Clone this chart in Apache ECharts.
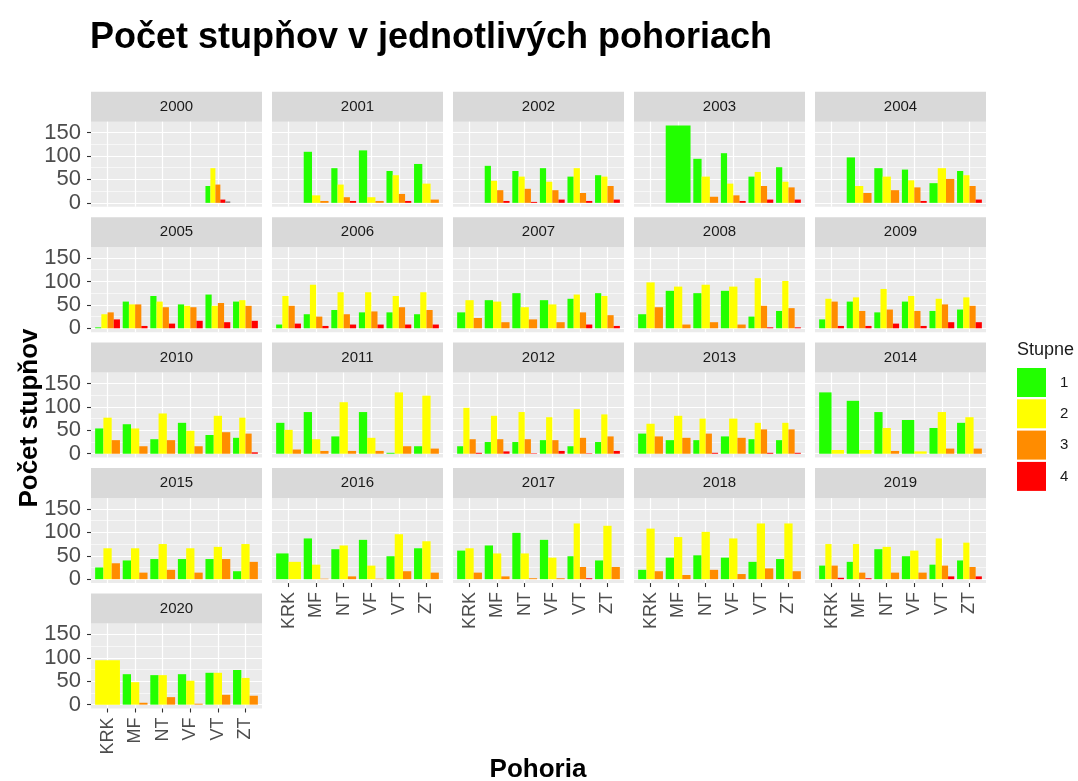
<!DOCTYPE html>
<html>
<head>
<meta charset="utf-8">
<title>Počet stupňov v jednotlivých pohoriach</title>
<script src="https://cdn.jsdelivr.net/npm/echarts@6/dist/echarts.min.js"></script>
<style>
	html, body { margin: 0; padding: 0; background: #fff; }
	#chart { width: 1078px; height: 781px; }
</style>
</head>
<body>
<div id="chart"></div>
<script>
	var _ = null; // no record for that group -> no bar, and no slot in the dodge

	const years = [2000, 2001, 2002, 2003, 2004, 2005, 2006, 2007, 2008, 2009, 2010,
		2011, 2012, 2013, 2014, 2015, 2016, 2017, 2018, 2019, 2020];
	const pohoria = ['KRK', 'MF', 'NT', 'VF', 'VT', 'ZT'];
	const stupne = ['1', '2', '3', '4'];
	const yTicks = [0, 50, 100, 150];

	// one row per year, one column per pohorie
	const stupen1 = [
		[_, _, _, _, 36, _],
		[_, 109, 74, 112, 68, 83],
		[_, 79, 68, 74, 56, 59],
		[_, 165, 94, 106, 56, 76],
		[_, 97, 74, 71, 42, 68],
		[2, 57, 69, 51, 72, 57],
		[8, 30, 39, 34, 34, 30],
		[34, 60, 75, 60, 63, 75],
		[30, 80, 75, 80, 25, 37],
		[19, 57, 34, 57, 37, 40],
		[54, 63, 31, 66, 40, 34],
		[66, 89, 37, 89, 2, 16],
		[16, 25, 25, 29, 16, 25],
		[43, 29, 29, 37, 31, 29],
		[131, 113, 89, 72, 55, 66],
		[25, 40, 43, 43, 43, 17],
		[55, 87, 64, 84, 49, 66],
		[61, 72, 99, 84, 49, 40],
		[20, 46, 51, 46, 37, 43],
		[29, 37, 64, 49, 31, 40],
		[_, 65, 63, 65, 68, 74]
	];
	const stupen2 = [
		[_, _, _, _, 74, _],
		[_, 16, 39, 12, 59, 41],
		[_, 47, 56, 45, 74, 56],
		[_, _, 56, 41, 66, 45],
		[_, 36, 56, 48, 74, 59],
		[30, 51, 57, 48, 48, 60],
		[69, 93, 77, 77, 69, 77],
		[60, 57, 45, 51, 72, 69],
		[98, 89, 93, 89, 107, 101],
		[63, 66, 84, 69, 63, 66],
		[77, 54, 86, 49, 81, 77],
		[51, 31, 110, 34, 131, 124],
		[98, 81, 89, 78, 95, 84],
		[64, 81, 75, 75, 66, 66],
		[8, 8, 55, 5, 89, 78],
		[66, 66, 75, 66, 69, 75],
		[37, 31, 72, 29, 96, 81],
		[66, 55, 55, 46, 119, 114],
		[108, 90, 101, 87, 119, 119],
		[75, 75, 69, 61, 87, 78],
		[95, 48, 63, 51, 68, 57]
	];
	const stupen3 = [
		[_, _, _, _, 39, _],
		[_, 4, 12, 4, 19, 7],
		[_, 27, 30, 27, 21, 36],
		[_, _, 13, 16, 36, 33],
		[_, 21, 27, 33, 51, 36],
		[34, 51, 45, 45, 54, 48],
		[48, 25, 30, 36, 45, 39],
		[22, 13, 19, 13, 34, 28],
		[45, 8, 13, 8, 48, 43],
		[57, 37, 40, 37, 51, 48],
		[29, 16, 29, 16, 46, 43],
		[9, 6, 6, 6, 16, 11],
		[31, 31, 31, 29, 34, 37],
		[37, 34, 43, 34, 52, 52],
		[_, _, 6, _, 11, 11],
		[34, 14, 20, 14, 43, 37],
		[_, 1, 6, 1, 17, 14],
		[14, 6, 2, 2, 26, 26],
		[17, 9, 20, 11, 23, 17],
		[29, 14, 14, 14, 29, 26],
		[_, 4, 16, 2, 21, 19]
	];
	const stupen4 = [
		[_, _, _, _, 7, _],
		[_, _, 4, _, 4, _],
		[_, 4, 2, 7, 4, 7],
		[_, _, _, 4, 7, 7],
		[_, _, _, 4, _, 7],
		[19, 5, 10, 16, 13, 16],
		[10, 5, 8, 8, 8, 8],
		[_, _, _, _, 8, 5],
		[_, _, _, _, 2, 2],
		[5, 5, 10, 5, 13, 13],
		[_, _, _, _, _, 3],
		[_, _, _, _, _, _],
		[2, 5, 1, 6, 1, 6],
		[_, _, 2, _, 2, 2],
		[_, _, _, _, _, _],
		[_, _, _, _, _, _],
		[_, _, _, _, _, _],
		[_, _, _, _, 2, _],
		[_, _, _, _, _, _],
		[3, 2, _, _, 6, 6],
		[_, _, _, _, _, _]
	];
	// unlabeled group (NA), only seen in 2000 / VT
	const stupenNA = [
		[_, _, _, _, 3, _]
	];

	const fills = ['#22FF00', '#FFFF00', '#FF8C00', '#FF0000', '#7F7F7F'];
	const FONT = '"Liberation Sans", Arial, Helvetica, sans-serif';

	var chart = echarts.init(document.getElementById('chart'));

	// shared y scale, ggplot style 5% expansion
	var yMaxData = 0;
	[stupen1, stupen2, stupen3, stupen4].forEach(function (s) {
		s.forEach(function (row) {
			row.forEach(function (v) { if (v != null && v > yMaxData) yMaxData = v; });
		});
	});
	const yMin = -0.05 * yMaxData;
	const yMax = 1.05 * yMaxData;

	const PANEL_W = 171, PANEL_H = 85, STRIP_H = 30;
	function panelLeft(col) { return 91 + col * 181; }
	function panelTop(row) { return 121.7 + row * 125.45; }

	// dodged bars: the groups present at one x share 0.9 of the slot
	function renderPanel(params, api) {
		var k = api.value(0);
		var present = [];
		for (var d = 1; d <= 5; d++) {
			var v = api.value(d);
			if (v != null && !isNaN(v)) present.push({ g: d - 1, v: v });
		}
		if (!present.length) return;
		var base = api.coord([k, 0]);
		var groupW = api.size([0.9, 0])[0];
		var barW = groupW / present.length;
		var x0 = base[0] - groupW / 2;
		return {
			type: 'group',
			children: present.map(function (p, j) {
				var top = api.coord([k, p.v]);
				return {
					type: 'rect',
					shape: { x: x0 + j * barW, y: top[1], width: barW, height: base[1] - top[1] },
					style: { fill: fills[p.g] }
				};
			})
		};
	}

	var grids = [], xAxes = [], yAxes = [], series = [], graphics = [];

	years.forEach(function (year, i) {
		var col = i % 5, row = Math.floor(i / 5);
		var left = panelLeft(col), top = panelTop(row);
		var bottomOfCol = i + 5 >= years.length;
		var firstCol = col === 0;

		grids.push({
			left: left, top: top, width: PANEL_W, height: PANEL_H,
			show: true, backgroundColor: '#EBEBEB', borderWidth: 0,
			containLabel: false, outerBoundsMode: 'none'
		});
		xAxes.push({
			type: 'value', gridIndex: i, min: -0.6, max: 5.6, splitNumber: 6,
			position: 'bottom',
			axisLine: { show: false, onZero: false },
			axisTick: {
				show: bottomOfCol, length: 4, customValues: [0, 1, 2, 3, 4, 5],
				lineStyle: { color: '#333333', width: 1.1 }
			},
			axisLabel: {
				show: bottomOfCol, customValues: [0, 1, 2, 3, 4, 5], rotate: 90, margin: 9,
				fontSize: 18, color: '#4D4D4D', fontFamily: FONT,
				formatter: function (v) { return pohoria[Math.round(v)]; }
			},
			splitLine: { show: true, lineStyle: { color: '#FFFFFF', width: 1.2 } }
		});
		yAxes.push({
			type: 'value', gridIndex: i, min: yMin, max: yMax, splitNumber: 4,
			position: 'left',
			axisLine: { show: false, onZero: false },
			axisTick: {
				show: firstCol, length: 4, customValues: yTicks,
				lineStyle: { color: '#333333', width: 1.1 }
			},
			axisLabel: {
				show: firstCol, customValues: yTicks, margin: 10,
				fontSize: 22, color: '#4D4D4D', fontFamily: FONT
			},
			splitLine: { show: true, lineStyle: { color: '#FFFFFF', width: 1.2 } },
			minorTick: { show: false, splitNumber: 2 },
			minorSplitLine: { show: true, lineStyle: { color: '#FFFFFF', width: 0.6 } }
		});
		series.push({
			type: 'custom', name: 'panel' + year,
			xAxisIndex: i, yAxisIndex: i,
			silent: true,
			renderItem: renderPanel,
			data: pohoria.map(function (c, k) {
				return [k, stupen1[i][k], stupen2[i][k], stupen3[i][k], stupen4[i][k],
					stupenNA[i] ? stupenNA[i][k] : _];
			})
		});

		// facet strip
		graphics.push({
			type: 'rect', silent: true,
			shape: { x: left, y: top - STRIP_H, width: PANEL_W, height: STRIP_H },
			style: { fill: '#D9D9D9' }
		});
		graphics.push({
			type: 'text', silent: true,
			x: left + PANEL_W / 2, y: top - STRIP_H / 2,
			style: {
				text: String(year), fill: '#1A1A1A', font: '15px ' + FONT,
				align: 'center', verticalAlign: 'middle'
			}
		});
	});

	// empty series only to feed the legend
	stupne.forEach(function (s, g) {
		series.push({
			type: 'custom', name: s, xAxisIndex: 0, yAxisIndex: 0,
			renderItem: function () { return; },
			itemStyle: { color: fills[g] },
			data: []
		});
	});

	graphics.push({
		type: 'text', silent: true, x: 30, y: 418, rotation: Math.PI / 2,
		style: {
			text: 'Počet stupňov', fill: '#000', font: 'bold 26px ' + FONT,
			align: 'center', verticalAlign: 'middle'
		}
	});
	graphics.push({
		type: 'text', silent: true, x: 538, y: 770,
		style: {
			text: 'Pohoria', fill: '#000', font: 'bold 26px ' + FONT,
			align: 'center', verticalAlign: 'middle'
		}
	});
	graphics.push({
		type: 'text', silent: true, x: 1017, y: 350,
		style: {
			text: 'Stupne', fill: '#1A1A1A', font: '18px ' + FONT,
			align: 'left', verticalAlign: 'middle'
		}
	});

	const option = {
		animation: false,
		backgroundColor: '#FFFFFF',
		textStyle: { fontFamily: FONT },
		title: {
			text: 'Počet stupňov v jednotlivých pohoriach',
			left: 90, top: 20, padding: 0,
			textStyle: { fontSize: 36, fontWeight: 'bold', color: '#000', fontFamily: FONT }
		},
		legend: {
			orient: 'vertical', left: 1017, top: 368, padding: 0,
			itemWidth: 29, itemHeight: 29, itemGap: 2.3,
			icon: 'rect', selectedMode: false,
			data: stupne,
			textStyle: { fontSize: 15, color: '#1A1A1A', padding: [0, 0, 0, 9], fontFamily: FONT }
		},
		grid: grids,
		xAxis: xAxes,
		yAxis: yAxes,
		series: series,
		graphic: graphics
	};
	chart.setOption(option);
	window.addEventListener('resize', function () {
		chart.resize();
	});
</script>
</body>
</html>
